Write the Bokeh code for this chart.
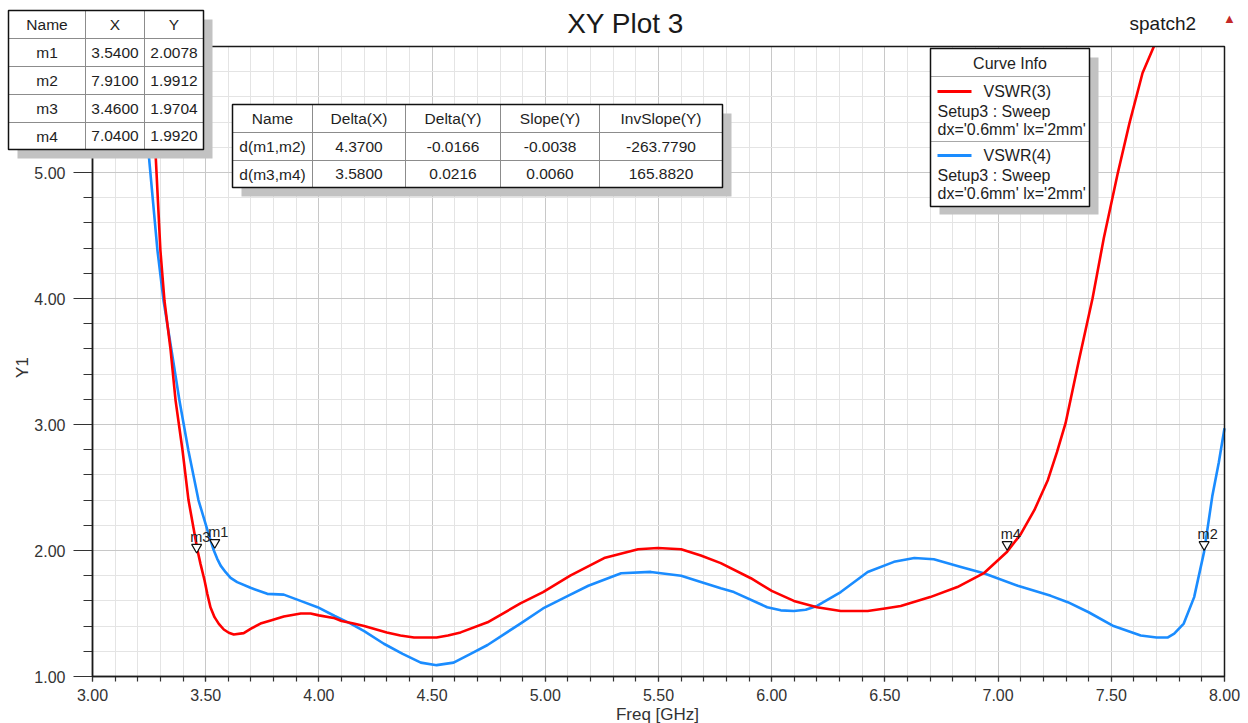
from bokeh.plotting import figure
from bokeh.models import (FixedTicker, PrintfTickFormatter, BoxAnnotation, Label, Range1d)
from bokeh.core.properties import value
from bokeh.embed import file_html
from bokeh.resources import INLINE

# ---------------- data ----------------
freq_vswr3 = [3.255, 3.278, 3.300, 3.318, 3.345, 3.367, 3.398, 3.424, 3.464, 3.477,
              3.495, 3.507, 3.521, 3.539, 3.558, 3.580, 3.602, 3.624, 3.668, 3.70,
              3.742, 3.787, 3.845, 3.92, 3.963, 4.00, 4.065, 4.10, 4.153, 4.20,
              4.30, 4.36, 4.42, 4.52, 4.57, 4.626, 4.745, 4.89, 4.99, 5.11,
              5.26, 5.41, 5.497, 5.60, 5.687, 5.775, 5.908, 6.00, 6.098, 6.20,
              6.305, 6.424, 6.50, 6.57, 6.70, 6.82, 6.937, 7.04, 7.10, 7.16,
              7.22, 7.26, 7.298, 7.357, 7.417, 7.467, 7.528, 7.58, 7.638, 7.688]
vswr3 = [6.00, 5.17, 4.38, 3.98, 3.59, 3.19, 2.79, 2.40, 2.00, 1.894,
         1.762, 1.656, 1.550, 1.471, 1.418, 1.373, 1.347, 1.333, 1.344, 1.38,
         1.42, 1.445, 1.476, 1.50, 1.50, 1.485, 1.465, 1.44, 1.42, 1.40,
         1.35, 1.325, 1.31, 1.31, 1.325, 1.35, 1.43, 1.58, 1.67, 1.80,
         1.94, 2.01, 2.02, 2.01, 1.96, 1.90, 1.78, 1.68, 1.60, 1.55,
         1.52, 1.52, 1.54, 1.56, 1.63, 1.71, 1.82, 1.99, 2.13, 2.32,
         2.56, 2.78, 3.01, 3.51, 4.00, 4.48, 4.99, 5.39, 5.79, 6.00]

freq_vswr4 = [3.215, 3.247, 3.287, 3.314, 3.349, 3.384, 3.424, 3.468, 3.513, 3.536,
              3.551, 3.566, 3.588, 3.610, 3.639, 3.698, 3.772, 3.845, 3.919, 3.994,
              4.07, 4.14, 4.20, 4.287, 4.37, 4.45, 4.52, 4.595, 4.67, 4.745,
              4.89, 4.99, 5.10, 5.19, 5.335, 5.466, 5.60, 5.687, 5.775, 5.833,
              5.98, 6.04, 6.098, 6.15, 6.20, 6.305, 6.424, 6.54, 6.63, 6.716,
              6.836, 6.937, 7.087, 7.233, 7.308, 7.40, 7.51, 7.63, 7.70, 7.75,
              7.778, 7.82, 7.866, 7.91, 7.946, 7.975, 8.00]
vswr4 = [6.00, 5.17, 4.38, 3.98, 3.59, 3.19, 2.79, 2.40, 2.13, 2.00,
         1.934, 1.88, 1.828, 1.783, 1.749, 1.704, 1.656, 1.65, 1.60, 1.55,
         1.48, 1.42, 1.36, 1.26, 1.18, 1.11, 1.09, 1.11, 1.18, 1.25,
         1.42, 1.54, 1.64, 1.72, 1.82, 1.83, 1.80, 1.75, 1.70, 1.67,
         1.55, 1.525, 1.52, 1.53, 1.56, 1.67, 1.83, 1.91, 1.94, 1.93,
         1.87, 1.82, 1.72, 1.64, 1.59, 1.51, 1.40, 1.325, 1.31, 1.31,
         1.34, 1.42, 1.63, 1.991, 2.43, 2.70, 2.97]

marker_names = ["m1", "m2", "m3", "m4"]
marker_x = [3.5400, 7.9100, 3.4600, 7.0400]
marker_y = [2.0078, 1.9912, 1.9704, 1.9920]

delta_names = ["d(m1,m2)", "d(m3,m4)"]
delta_x = ["4.3700", "3.5800"]
delta_y = ["-0.0166", "0.0216"]
slope_y = ["-0.0038", "0.0060"]
inv_slope_y = ["-263.7790", "165.8820"]

x_major_ticks = [3.0, 3.5, 4.0, 4.5, 5.0, 5.5, 6.0, 6.5, 7.0, 7.5, 8.0]
y_major_ticks = [1.0, 2.0, 3.0, 4.0, 5.0, 6.0]
x_minor_ticks = [round(3.0 + 0.1 * i, 2) for i in range(51)]
y_minor_ticks = [round(1.0 + 0.2 * i, 2) for i in range(26)]

# ---------------- layout ----------------
W, H = 1248, 723
PLOT_L, PLOT_R, PLOT_T, PLOT_B = 92, 1224, 46, 676   # plot area edges, canvas px
X_MIN, X_MAX = x_major_ticks[0], x_major_ticks[-1]
Y_MIN, Y_MAX = y_major_ticks[0], y_major_ticks[-1]
ppx = (PLOT_R - PLOT_L) / (X_MAX - X_MIN)
ppy = (PLOT_B - PLOT_T) / (Y_MAX - Y_MIN)
x_range = Range1d(X_MIN - PLOT_L / ppx, X_MAX + (W - PLOT_R) / ppx)
y_range = Range1d(Y_MIN - (H - PLOT_B) / ppy, Y_MAX + PLOT_T / ppy)

FONT = "Liberation Sans"
TXT = "#1e1e1e"
RED = "#ff0000"
BLUE = "#1a8cff"
SHADOW = "#c2c2c2"
INNER = "#8c8c8c"

p = figure(width=W, height=H, x_range=x_range, y_range=y_range,
           output_backend="svg", toolbar_location=None, tools="",
           min_border=0, title_location=None)
p.background_fill_color = "white"
p.border_fill_color = "white"
p.outline_line_color = None

for ax, major, minor in ((p.xaxis, x_major_ticks, x_minor_ticks),
                         (p.yaxis, y_major_ticks, y_minor_ticks)):
    ax.ticker = FixedTicker(ticks=major, minor_ticks=minor)
    ax.formatter = PrintfTickFormatter(format="%.2f")
    ax.major_label_text_font = FONT
    ax.major_label_text_font_size = "16px"
    ax.major_label_text_color = "#333333"
    ax.axis_line_color = "#333333"
    ax.axis_line_width = 1.5
    ax.major_tick_line_color = "#333333"
    ax.minor_tick_line_color = "#333333"
    ax.major_tick_line_width = 1.2
    ax.minor_tick_line_width = 1.2
    ax.major_tick_in = 0
    ax.minor_tick_in = 0

p.xaxis.fixed_location = Y_MIN
p.xaxis.bounds = (X_MIN, X_MAX)
p.yaxis.fixed_location = X_MIN
p.yaxis.bounds = (Y_MIN, Y_MAX)
p.xaxis.major_tick_out = 5
p.xaxis.minor_tick_out = 5
p.xaxis.major_label_standoff = 7
p.yaxis.major_tick_out = 19
p.yaxis.minor_tick_out = 9
p.yaxis.major_label_standoff = 8

grid_ok = True
for g, b, cb in ((p.xgrid, (X_MIN, X_MAX), (Y_MIN, Y_MAX)),
                 (p.ygrid, (Y_MIN, Y_MAX), (X_MIN, X_MAX))):
    g.grid_line_color = "#c8c8c8"
    g.grid_line_width = 1
    g.minor_grid_line_color = "#e4e4e4"
    g.minor_grid_line_width = 1
    g.bounds = b
    try:
        g.cross_bounds = cb
    except AttributeError:
        grid_ok = False

if not grid_ok:
    # grid lines limited to the plot area
    p.xgrid.visible = False
    p.ygrid.visible = False
    xm = [t for t in x_minor_ticks if t not in x_major_ticks]
    ym = [t for t in y_minor_ticks if t not in y_major_ticks]
    p.segment(xm, [Y_MIN] * len(xm), xm, [Y_MAX] * len(xm), line_color="#e4e4e4", line_width=1)
    p.segment([X_MIN] * len(ym), ym, [X_MAX] * len(ym), ym, line_color="#e4e4e4", line_width=1)
    p.segment(x_major_ticks, [Y_MIN] * len(x_major_ticks), x_major_ticks, [Y_MAX] * len(x_major_ticks),
              line_color="#c8c8c8", line_width=1)
    p.segment([X_MIN] * len(y_major_ticks), y_major_ticks, [X_MAX] * len(y_major_ticks), y_major_ticks,
              line_color="#c8c8c8", line_width=1)

# ---------------- curves ----------------
p.line(freq_vswr4, vswr4, line_color=BLUE, line_width=2.6, line_join="round")
p.line(freq_vswr3, vswr3, line_color=RED, line_width=2.6, line_join="round")

# marker flags: small open triangles sitting just above each marker point
TRI_LIFT_PX = 7
tri_y = [v + TRI_LIFT_PX / ppy for v in marker_y]
p.scatter(marker_x, tri_y, marker="inverted_triangle", size=10,
          fill_color="white", line_color="#111111", line_width=1.2)
p.text(marker_x, marker_y, text=marker_names, x_offset=-6.5, y_offset=-17.5,
       text_font=value(FONT), text_font_size="14.5px", text_color="#222222",
       text_baseline="alphabetic", text_align="left")

# plot area border
p.add_layout(BoxAnnotation(left=X_MIN, right=X_MAX, bottom=Y_MIN, top=Y_MAX,
                           fill_color=None, line_color="#1a1a1a", line_alpha=1.0,
                           line_width=1.5))


# ---------------- overlay helpers (canvas pixel coordinates) ----------------
def canvas_box(left, top, right, bottom, fill, line=None, lw=1.0):
    p.add_layout(BoxAnnotation(
        left=left, right=right, top=top, bottom=bottom,
        left_units="canvas", right_units="canvas",
        top_units="canvas", bottom_units="canvas",
        fill_color=fill, fill_alpha=1.0,
        line_color=line, line_alpha=1.0, line_width=lw))


def canvas_text(x, y, text, size="15.5px", align="center", color=TXT, angle=0):
    p.add_layout(Label(x=x, y=y, x_units="canvas", y_units="canvas", text=text,
                       text_font=FONT, text_font_size=size, text_align=align,
                       text_baseline="middle", text_color=color,
                       angle=angle, angle_units="deg"))


def draw_table(col_edges, row_edges, rows, shadow=9):
    l, r = col_edges[0], col_edges[-1]
    t, b = row_edges[0], row_edges[-1]
    canvas_box(l + shadow, t + shadow, r + shadow, b + shadow, SHADOW)
    canvas_box(l, t, r, b, "white")
    for x in col_edges[1:-1]:
        canvas_box(x - 0.5, t, x + 0.5, b, INNER)
    for y in row_edges[1:-1]:
        canvas_box(l, y - 0.5, r, y + 0.5, INNER)
    canvas_box(l, t, r, b, None, line="#111111", lw=1.5)
    for i, row in enumerate(rows):
        cy = (row_edges[i] + row_edges[i + 1]) / 2
        for j, cell in enumerate(row):
            cx = (col_edges[j] + col_edges[j + 1]) / 2
            canvas_text(cx, cy, cell)


# marker table
marker_rows = [["Name", "X", "Y"]] + [
    [n, "%.4f" % x, "%.4f" % y] for n, x, y in zip(marker_names, marker_x, marker_y)]
draw_table([8, 85, 144, 203], [10, 38, 66, 94, 122, 149], marker_rows)

# delta table
delta_rows = [["Name", "Delta(X)", "Delta(Y)", "Slope(Y)", "InvSlope(Y)"]] + [
    list(r) for r in zip(delta_names, delta_x, delta_y, slope_y, inv_slope_y)]
draw_table([232, 312, 405, 500, 599, 722], [104, 132, 160, 187], delta_rows)

# curve info legend
LG_L, LG_R, LG_T, LG_B = 930, 1089, 48, 206
canvas_box(LG_L + 9, LG_T + 9, LG_R + 9, LG_B + 8, SHADOW)
canvas_box(LG_L, LG_T, LG_R, LG_B, "white")
canvas_box(LG_L, 75.5, LG_R, 76.5, "#a8a8a8")
canvas_box(LG_L, 140.5, LG_R, 141.5, "#a8a8a8")
canvas_box(LG_L, LG_T, LG_R, LG_B, None, line="#111111", lw=1.5)
canvas_text((LG_L + LG_R) / 2, 62.5, "Curve Info", size="16px")
for y0, color, name in ((91, RED, "VSWR(3)"), (155, BLUE, "VSWR(4)")):
    canvas_box(937, y0 - 1.5, 971, y0 + 1.5, color)
    canvas_text(983, y0, name, size="16px", align="left")
    canvas_text(937, y0 + 20, "Setup3 : Sweep", size="16px", align="left")
    canvas_text(937, y0 + 37.5, "dx='0.6mm' lx='2mm'", size="16px", align="left")

# titles and axis names
canvas_text(625, 23, "XY Plot 3", size="28px", color="#1a1a1a")
canvas_text(1129, 23, "spatch2", size="19px", align="left", color="#1a1a1a")
canvas_text(1229, 18, "▲", size="13px", color="#c42828")
canvas_text(657, 714, "Freq [GHz]", size="17px", color="#333333")
canvas_text(22, 367, "Y1", size="17px", color="#333333", angle=90)

open("out.html", "w").write(file_html(p, INLINE))
